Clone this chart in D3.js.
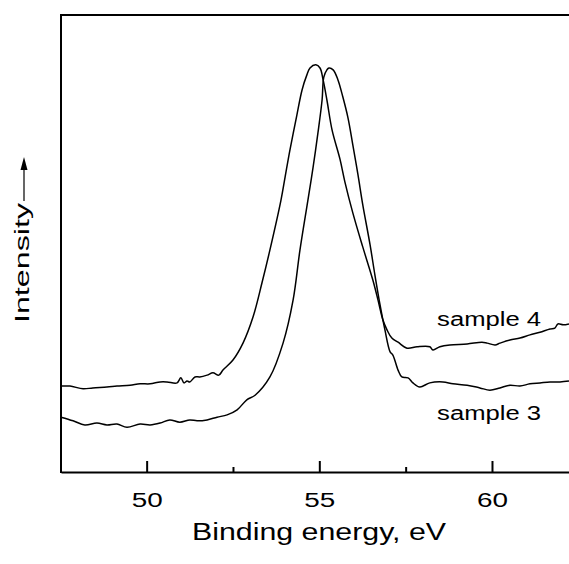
<!DOCTYPE html>
<html>
<head>
<meta charset="utf-8">
<script src="https://cdn.jsdelivr.net/npm/d3@7"></script>
<style>
    html, body { margin: 0; padding: 0; background: #fff; }
    svg { display: block; }
    text { font-family: "Liberation Sans", Arial, Helvetica, sans-serif; fill: #000; }
</style>
</head>
<body>
<svg id="chart"></svg>
<script>
// binding energies (eV) and intensities (a.u.)
const energy4 = [47.52, 47.78, 48.16, 48.44, 48.85, 49.14, 49.52, 49.81, 50.10, 50.39,
    50.59, 50.88, 50.99, 51.08, 51.17, 51.25, 51.40, 51.54, 51.75, 51.92,
    52.09, 52.21, 52.50, 52.79, 53.08, 53.34, 53.57, 53.89, 54.01, 54.15,
    54.35, 54.50, 54.64, 54.73, 54.90, 55.02, 55.11, 55.22, 55.37, 55.60,
    55.74, 55.97, 56.26, 56.55, 56.70, 56.84, 56.96, 57.10, 57.28, 57.54,
    57.83, 58.20, 58.29, 58.49, 58.78, 59.28, 59.71, 59.86, 60.09, 60.23,
    60.52, 60.81, 61.10, 61.39, 61.68, 61.82, 61.91, 62.06, 62.23]
const intensity4 = [18.8, 18.8, 18.2, 18.4, 18.6, 18.8, 19.0, 19.3, 19.3, 19.7,
    19.7, 19.5, 20.6, 19.5, 19.9, 19.7, 20.8, 20.8, 21.2, 21.7,
    21.2, 22.3, 24.5, 28.2, 33.9, 41.4, 48.6, 59.5, 64.6, 70.5,
    78.1, 83.6, 86.9, 88.4, 89.1, 88.4, 85.8, 81.4, 74.8, 68.4,
    63.5, 56.7, 49.2, 42.0, 37.6, 33.3, 31.1, 29.3, 28.4, 27.1,
    27.4, 27.4, 26.7, 27.4, 27.8, 28.0, 28.4, 28.2, 27.8, 28.2,
    28.9, 29.3, 30.0, 30.6, 31.3, 31.5, 32.4, 32.2, 32.4]

const energy3 = [47.52, 47.87, 48.21, 48.56, 48.85, 49.14, 49.43, 49.81, 50.10, 50.39,
    50.67, 50.96, 51.25, 51.46, 51.75, 52.04, 52.33, 52.62, 52.90, 53.14,
    53.57, 53.95, 54.24, 54.44, 54.67, 54.82, 54.96, 55.08, 55.13, 55.22,
    55.28, 55.40, 55.54, 55.68, 55.83, 55.97, 56.12, 56.26, 56.47, 56.61,
    56.76, 56.90, 57.05, 57.13, 57.28, 57.39, 57.57, 57.71, 57.91, 58.20,
    58.58, 58.87, 59.28, 59.65, 59.94, 60.23, 60.52, 60.81, 61.10, 61.39,
    61.68, 61.97, 62.23]
const intensity3 = [12.0, 11.2, 10.3, 10.7, 10.3, 10.5, 9.8, 10.5, 10.3, 10.7,
    11.4, 10.9, 11.4, 11.2, 11.4, 12.0, 12.5, 13.6, 15.8, 16.8,
    20.8, 28.2, 37.6, 48.6, 59.5, 66.7, 74.2, 81.4, 86.4, 88.0,
    88.4, 88.0, 85.8, 82.1, 77.5, 71.6, 65.0, 58.4, 49.7, 43.1,
    36.5, 31.1, 26.3, 25.6, 22.3, 20.8, 20.6, 19.5, 18.6, 19.5,
    19.7, 19.3, 19.0, 18.4, 17.9, 18.4, 19.0, 18.8, 19.3, 19.5,
    19.7, 19.7, 19.9]

const majorTicks = [50, 55, 60]
const minorTicks = [52.5, 57.5]
const seriesNames = ['sample 4', 'sample 3']

const width = 569
const height = 564
const margin = {top: 15, right: 0, bottom: 92, left: 61}

const svg = d3.select('#chart')
    .attr('width', width)
    .attr('height', height)

// x runs from the left frame line to the right edge of the picture
const xScale = d3.scaleLinear()
    .domain([47.52, 62.23])
    .range([margin.left, width - margin.right])

// arbitrary intensity units, no y ticks in the original
const yScale = d3.scaleLinear()
    .domain([0, 100])
    .range([height - margin.bottom, margin.top])

const y0 = height - margin.bottom

// major ticks point inward
const xAxis = d3.axisBottom(xScale)
    .tickValues(majorTicks)
    .tickFormat(d3.format('d'))
    .tickSizeInner(-11)
    .tickSizeOuter(0)

const gx = svg.append('g')
    .attr('transform', `translate(0, ${y0})`)
    .call(xAxis)
gx.select('.domain').attr('stroke-width', 2)
gx.selectAll('.tick line').attr('stroke-width', 2)
gx.selectAll('.tick text')
    .attr('y', 35)
    .attr('dy', null)
    .attr('font-size', 20)
    .attr('textLength', 31)
    .attr('lengthAdjust', 'spacingAndGlyphs')

// minor ticks, shorter
const xMinor = d3.axisBottom(xScale)
    .tickValues(minorTicks)
    .tickFormat('')
    .tickSizeInner(-5)
    .tickSizeOuter(0)
const gm = svg.append('g')
    .attr('transform', `translate(0, ${y0})`)
    .call(xMinor)
gm.select('.domain').remove()
gm.selectAll('.tick line').attr('stroke-width', 2)

// left and top frame lines
svg.append('line')
    .attr('x1', xScale(47.52)).attr('x2', xScale(47.52))
    .attr('y1', margin.top - 1).attr('y2', y0 + 1)
    .attr('stroke', '#000').attr('stroke-width', 2)
svg.append('line')
    .attr('x1', xScale(47.52) - 1).attr('x2', width)
    .attr('y1', margin.top).attr('y2', margin.top)
    .attr('stroke', '#000').attr('stroke-width', 2)

// spectra
const line = d3.line()
    .x(d => xScale(d[0]))
    .y(d => yScale(d[1]))
    .curve(d3.curveCatmullRom.alpha(0.5))

const spectra = [d3.zip(energy4, intensity4), d3.zip(energy3, intensity3)]
svg.selectAll('.spectrum')
    .data(spectra)
    .enter().append('path')
    .attr('class', 'spectrum')
    .attr('fill', 'none')
    .attr('stroke', '#000')
    .attr('stroke-width', 1.5)
    .attr('stroke-linejoin', 'round')
    .attr('d', line)

// series labels next to the right-hand baselines
const labelPos = [[58.41, 31.9], [58.41, 11.4]]
svg.selectAll('.label')
    .data(seriesNames)
    .enter().append('text')
    .attr('class', 'label')
    .attr('x', (d, i) => xScale(labelPos[i][0]))
    .attr('y', (d, i) => yScale(labelPos[i][1]))
    .attr('font-size', 20)
    .attr('textLength', 104)
    .attr('lengthAdjust', 'spacingAndGlyphs')
    .text(d => d)

// axis titles
svg.append('text')
    .attr('x', 319)
    .attr('y', 540)
    .attr('text-anchor', 'middle')
    .attr('font-size', 23.5)
    .attr('textLength', 254)
    .attr('lengthAdjust', 'spacingAndGlyphs')
    .text('Binding energy, eV')

svg.append('text')
    .attr('transform', 'translate(29, 323) rotate(-90)')
    .attr('font-size', 20)
    .attr('textLength', 120)
    .attr('lengthAdjust', 'spacingAndGlyphs')
    .text('Intensity')

// upward arrow after the y title
svg.append('line')
    .attr('x1', 24).attr('x2', 24)
    .attr('y1', 201).attr('y2', 168)
    .attr('stroke', '#000').attr('stroke-width', 1.2)
svg.append('path')
    .attr('d', 'M24,157 L20.5,170 L27.5,170 Z')
    .attr('fill', '#000')
</script>
</body>
</html>
